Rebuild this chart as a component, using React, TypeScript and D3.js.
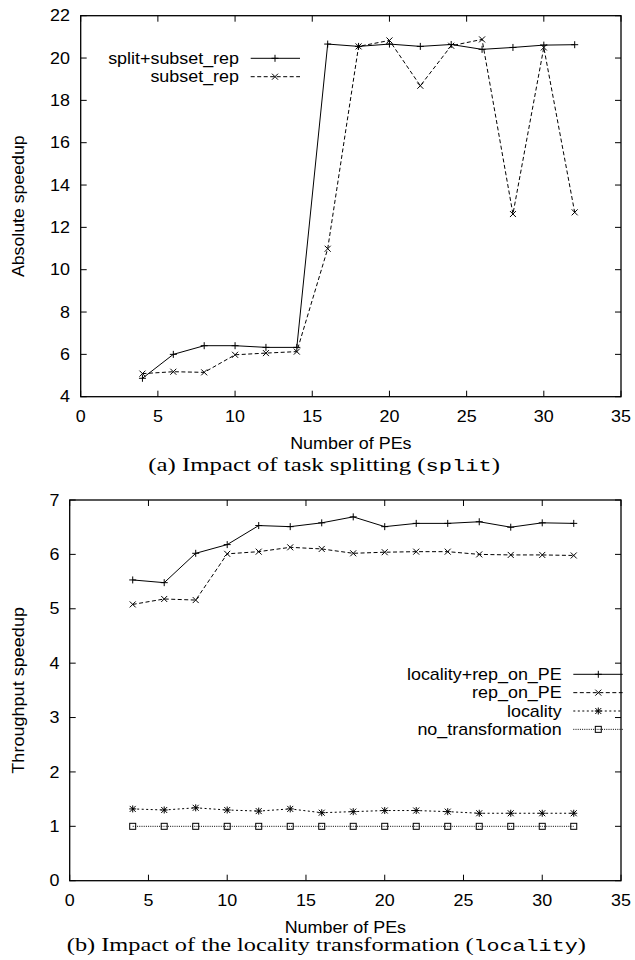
import React from 'react';
import * as d3 from 'd3';

// ---------- data ----------
const pes = [4, 6, 8, 10, 12, 14, 16, 18, 20, 22, 24, 26, 28, 30, 32];

// (a) absolute speedup
const splitSubsetRep = [4.87, 6.0, 6.41, 6.41, 6.33, 6.33, 20.66, 20.55, 20.66, 20.55, 20.64, 20.41, 20.5, 20.61, 20.63];
const subsetRep = [5.09, 5.18, 5.15, 5.98, 6.06, 6.13, 10.99, 20.55, 20.83, 18.69, 20.58, 20.88, 12.63, 20.5, 12.71];

// (b) throughput speedup
const localityRepOnPE = [5.53, 5.48, 6.02, 6.18, 6.53, 6.51, 6.58, 6.69, 6.51, 6.57, 6.57, 6.6, 6.5, 6.58, 6.57];
const repOnPE = [5.08, 5.18, 5.16, 6.01, 6.05, 6.13, 6.1, 6.02, 6.04, 6.05, 6.05, 6.0, 5.99, 5.99, 5.98];
const locality = [1.32, 1.3, 1.34, 1.3, 1.28, 1.32, 1.25, 1.27, 1.29, 1.29, 1.27, 1.24, 1.24, 1.24, 1.24];
const noTransformation = [1, 1, 1, 1, 1, 1, 1, 1, 1, 1, 1, 1, 1, 1, 1];

const xTicks = [0, 5, 10, 15, 20, 25, 30, 35];
const yTicksA = [4, 6, 8, 10, 12, 14, 16, 18, 20, 22];
const yTicksB = [0, 1, 2, 3, 4, 5, 6, 7];

const seriesA = [
  { name: 'split+subset_rep', values: splitSubsetRep, marker: 'plus', dash: '' },
  { name: 'subset_rep', values: subsetRep, marker: 'cross', dash: '4,2.5' },
];
const seriesB = [
  { name: 'locality+rep_on_PE', values: localityRepOnPE, marker: 'plus', dash: '' },
  { name: 'rep_on_PE', values: repOnPE, marker: 'cross', dash: '4,2.5' },
  { name: 'locality', values: locality, marker: 'star', dash: '2,2.5' },
  { name: 'no_transformation', values: noTransformation, marker: 'box', dash: '1,1.2' },
];

// ---------- style ----------
const SANS = "'Liberation Sans', Arial, Helvetica, sans-serif";
const SERIF = "'Liberation Serif', 'Times New Roman', serif";
const MONO = "'Liberation Mono', 'Courier New', monospace";
const SX = 1.12;
const FS = 16;
const TICK = 6;

function STxt({ x, y, anchor = 'middle', children }: any) {
  return (
    <text
      transform={`translate(${x},${y}) scale(${SX},1)`}
      textAnchor={anchor}
      fontFamily={SANS}
      fontSize={FS}
      fill="#000"
    >
      {children}
    </text>
  );
}

function Marker({ type, x, y }: any) {
  const p = 3.5;
  const c = 3;
  if (type === 'plus') return <path d={`M${x - p},${y}H${x + p}M${x},${y - p}V${y + p}`} stroke="#000" strokeWidth={1} fill="none" />;
  if (type === 'cross') return <path d={`M${x - c},${y - c}L${x + c},${y + c}M${x - c},${y + c}L${x + c},${y - c}`} stroke="#000" strokeWidth={1} fill="none" />;
  if (type === 'star')
    return (
      <path
        d={`M${x - p},${y}H${x + p}M${x},${y - p}V${y + p}M${x - c},${y - c}L${x + c},${y + c}M${x - c},${y + c}L${x + c},${y - c}`}
        stroke="#000"
        strokeWidth={1}
        fill="none"
      />
    );
  return <rect x={x - 3} y={y - 3} width={6} height={6} stroke="#000" strokeWidth={1} fill="none" />;
}

function Panel({ box, yDomain, yTicks, series, yLabel, yLabelLen, yLabelRight, legend }: any) {
  const { left, right, top, bottom } = box;
  const x = d3.scaleLinear().domain([0, 35]).range([left, right]);
  const y = d3.scaleLinear().domain(yDomain).range([bottom, top]);
  const line = d3
    .line<number>()
    .x((_, i) => x(pes[i]))
    .y((d) => y(d));
  const cx = (left + right) / 2;
  const cy = (top + bottom) / 2;
  return (
    <g>
      {xTicks.map((t) => (
        <g key={'xt' + t}>
          <line x1={x(t)} x2={x(t)} y1={bottom} y2={bottom - TICK} stroke="#000" strokeWidth={1} />
          <line x1={x(t)} x2={x(t)} y1={top} y2={top + TICK} stroke="#000" strokeWidth={1} />
          <STxt x={x(t)} y={bottom + 24.8}>{String(t)}</STxt>
        </g>
      ))}
      {yTicks.map((t: number) => (
        <g key={'yt' + t}>
          <line x1={left} x2={left + TICK} y1={y(t)} y2={y(t)} stroke="#000" strokeWidth={1} />
          <line x1={right} x2={right - TICK} y1={y(t)} y2={y(t)} stroke="#000" strokeWidth={1} />
          <STxt x={yLabelRight} y={y(t) + 5.7} anchor="end">{String(t)}</STxt>
        </g>
      ))}
      {series.map((s: any) => (
        <g key={s.name}>
          <path d={line(s.values) || ''} fill="none" stroke="#000" strokeWidth={1} strokeDasharray={s.dash || undefined} />
          {s.values.map((v: number, i: number) => (
            <Marker key={i} type={s.marker} x={x(pes[i])} y={y(v)} />
          ))}
        </g>
      ))}
      {series.map((s: any, i: number) => {
        const ly = legend.y0 + i * legend.dy;
        return (
          <g key={'lg' + s.name}>
            <STxt x={legend.textRight} y={ly + 5.7} anchor="end">{s.name}</STxt>
            <line x1={legend.x1} x2={legend.x2} y1={ly} y2={ly} stroke="#000" strokeWidth={1} strokeDasharray={s.dash || undefined} />
            <Marker type={s.marker} x={legend.mx} y={ly} />
          </g>
        );
      })}
      <rect x={left} y={top} width={right - left} height={bottom - top} fill="none" stroke="#000" strokeWidth={1.3} />
      <STxt x={cx} y={bottom + 52.3}>Number of PEs</STxt>
      <text
        transform={`translate(24,${cy}) rotate(-90)`}
        textAnchor="middle"
        fontFamily={SANS}
        fontSize={FS}
        textLength={yLabelLen}
        lengthAdjust="spacingAndGlyphs"
      >
        {yLabel}
      </text>
    </g>
  );
}

function Caption({ cx, y, width, before, mono, after }: any) {
  return (
    <text
      x={cx - width / 2}
      y={y}
      fontFamily={SERIF}
      fontSize={18.5}
      textLength={width}
      lengthAdjust="spacingAndGlyphs"
      fill="#000"
    >
      {before}
      <tspan fontFamily={MONO} fontSize={16.5}>{mono}</tspan>
      {after}
    </text>
  );
}

export default function App() {
  return (
    <svg
      width={635}
      height={960}
      viewBox="0 0 635 960"
      style={{ position: 'absolute', left: 0, top: 0, background: '#fff' }}
    >
      <rect x={0} y={0} width={635} height={960} fill="#fff" />
      <Panel
        box={{ left: 80.7, right: 621, top: 15.7, bottom: 396.7 }}
        yDomain={[4, 22]}
        yTicks={yTicksA}
        series={seriesA}
        yLabel="Absolute speedup"
        yLabelLen={141.7}
        yLabelRight={70}
        legend={{ y0: 58.3, dy: 18.4, textRight: 239, x1: 250.7, x2: 300, mx: 275 }}
      />
      <Caption cx={324.2} y={471} width={351.7} before="(a) Impact of task splitting (" mono="split" after=")" />
      <Panel
        box={{ left: 69.7, right: 621, top: 500, bottom: 880.7 }}
        yDomain={[0, 7]}
        yTicks={yTicksB}
        series={seriesB}
        yLabel="Throughput speedup"
        yLabelLen={166.7}
        yLabelRight={59.5}
        legend={{ y0: 674.3, dy: 18.35, textRight: 561.7, x1: 573.3, x2: 622.7, mx: 598.3 }}
      />
      <Caption cx={326.3} y={951} width={519} before="(b) Impact of the locality transformation (" mono="locality" after=")" />
    </svg>
  );
}
